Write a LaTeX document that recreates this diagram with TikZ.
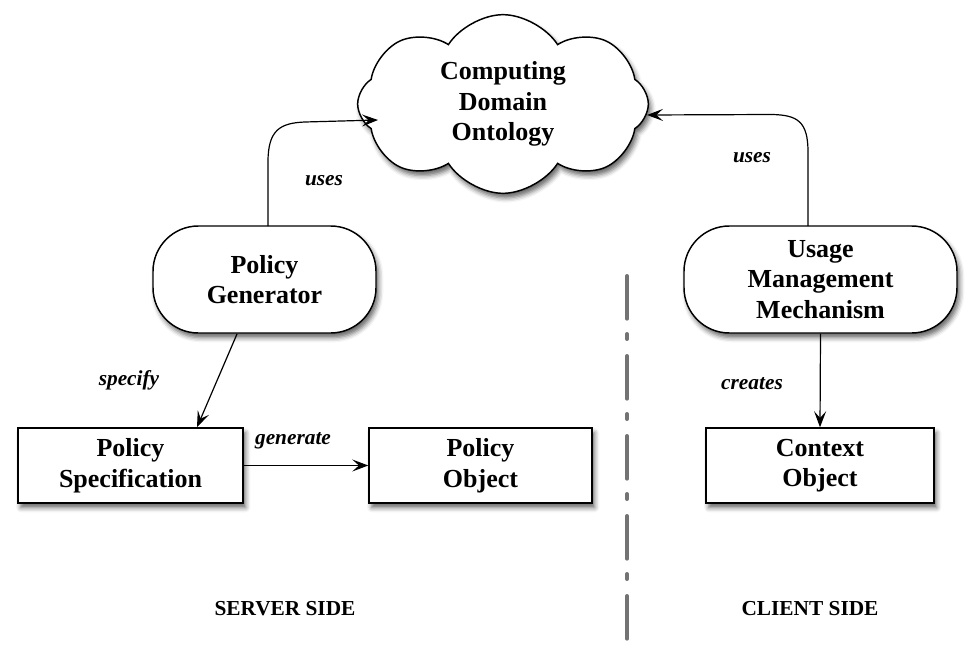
\documentclass[tikz,border=0pt]{standalone}
\usepackage{fontspec}
\setmainfont{Liberation Serif}
\usetikzlibrary{shapes.symbols,shapes.misc,arrows.meta,shadows.blur}
\begin{document}
\begin{tikzpicture}[x=0.75pt,y=-0.75pt,
  shad/.style={blur shadow={shadow xshift=2pt,shadow yshift=-3.5pt,shadow blur radius=3.5pt,shadow opacity=60}},
  txt/.style={align=center,font=\bfseries\fontsize{19.5}{23}\selectfont},
  rbox/.style={txt,shad,draw,line width=1.1pt,fill=white,rectangle,minimum height=56.25pt,inner sep=0pt},
  pill/.style={txt,shad,draw,line width=1.1pt,fill=white,rectangle,rounded corners=34pt,minimum height=80.25pt,inner sep=0pt},
  lbl/.style={font=\bfseries\itshape\fontsize{16}{19}\selectfont},
  side/.style={font=\bfseries\fontsize{16}{19}\selectfont},
  arr/.style={line width=0.9pt,-{Stealth[length=12pt,width=9pt,inset=5pt]}},
  sep/.style={draw=black!55,line width=3pt,line cap=round,dash pattern=on 32pt off 11.5pt on 3.75pt off 12.75pt}
]
\useasboundingbox (0,0) rectangle (978,649);

% cloud
\node[txt,shad,draw,line width=1.1pt,fill=white,cloud,cloud puffs=8,cloud puff arc=115,cloud ignores aspect,
      minimum width=218pt,minimum height=134pt,inner sep=0pt] (cloud) at (503,104) {Computing\\Domain\\Ontology};

% process nodes
\node[pill,minimum width=167.25pt] (gen) at (264.5,279.5) {Policy\\Generator};
\node[pill,minimum width=204.75pt] (umm) at (820.5,279.5) {Usage\\Management\\Mechanism};

% objects
\node[rbox,minimum width=168.75pt] (spec) at (130.5,465.5) {Policy\\Specification};
\node[rbox,minimum width=167.25pt] (pobj) at (480.5,465.5) {Policy\\Object};
\node[rbox,minimum width=171pt] (ctx) at (820,465.5) {Context\\Object};

% connector end points on the cloud
\coordinate (cl) at (378,120);
\coordinate (cr) at (647,115);
\coordinate (gtop) at (268,226);
\coordinate (utop) at (808,226);
\coordinate (gbot) at (237,334);

\draw[arr] (gtop) -- (268,162) .. controls (268,130) and (280,123) .. (305,122) -- (cl);
\draw[arr] (utop) -- (808,152) .. controls (808,122) and (798,115) .. (772,114.5) -- (cr);
\draw[arr] (gbot) -- (spec.north -| 197,0);
\draw[arr] (spec.east) -- (pobj.west);
\draw[arr] (umm.south) -- (ctx.north);

% labels
\node[lbl] (l1) at (324,181) {uses};
\node[lbl] (l2) at (752,158) {uses};
\node[lbl] (l3) at (129,380) {specify};
\node[lbl] (l4) at (293,441) {generate};
\node[lbl] (l5) at (752,384) {creates};

% separator
\coordinate (s1) at (627,276);
\coordinate (s2) at (627,640);
\draw[sep] (s1) -- (s2);

\node[side] (srv) at (285,609) {SERVER SIDE};
\node[side] (cli) at (810,609) {CLIENT SIDE};
\end{tikzpicture}
\end{document}
